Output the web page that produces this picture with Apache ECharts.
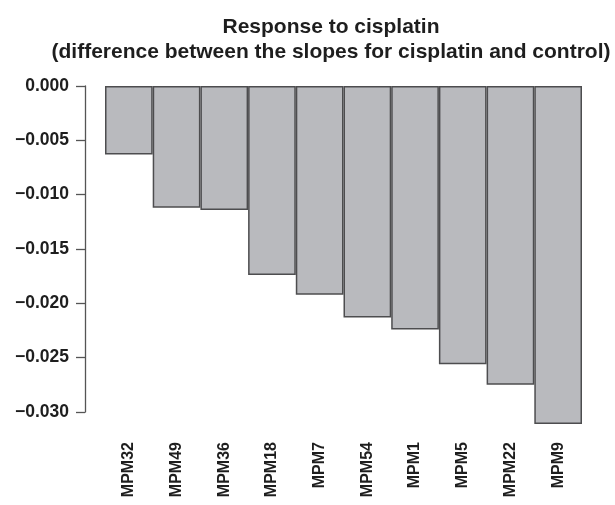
<!DOCTYPE html>
<html>
<head>
<meta charset="utf-8">
<script src="https://cdn.jsdelivr.net/npm/echarts@6/dist/echarts.min.js"></script>
<style>
  html, body { margin: 0; padding: 0; background: #fff; }
  #chart { width: 615px; height: 505px; }
</style>
</head>
<body>
<div id="chart"></div>
<script>
// Cell lines, sorted by response
const cellLines = ['MPM32', 'MPM49', 'MPM36', 'MPM18', 'MPM7', 'MPM54', 'MPM1', 'MPM5', 'MPM22', 'MPM9'];
// Difference between the slopes for cisplatin and control
const slopeDiff = [-0.0063, -0.0112, -0.0114, -0.0174, -0.0192, -0.0213, -0.0224, -0.0256, -0.0275, -0.0311];
// Value axis range and step
const yMin = -0.030;
const yMax = 0;
const yStep = 0.005;

const FONT = '"Liberation Sans", Arial, Helvetica, sans-serif';
const chart = echarts.init(document.getElementById('chart'), null, { renderer: 'canvas' });

chart.setOption({
  animation: false,
  backgroundColor: '#ffffff',
  title: {
    text: 'Response to cisplatin\n(difference between the slopes for cisplatin and control)',
    left: 326,
    textAlign: 'center',
    top: 10,
    textStyle: {
      fontFamily: FONT,
      fontWeight: 'bold',
      fontSize: 21,
      lineHeight: 25,
      color: '#1e1e1e'
    }
  },
  grid: { left: 105, right: 33, top: 86, bottom: 93 },
  xAxis: {
    type: 'category',
    data: cellLines,
    axisLine: { show: false },
    axisTick: { show: false },
    axisLabel: {
      rotate: 90,
      margin: 30,
      interval: 0,
      fontFamily: FONT,
      fontWeight: 'bold',
      fontSize: 16,
      color: '#1e1e1e'
    }
  },
  yAxis: {
    type: 'value',
    min: yMin,
    max: yMax,
    interval: yStep,
    offset: 20,
    splitLine: { show: false },
    axisLine: { show: true, lineStyle: { color: '#555555', width: 1.3 } },
    axisTick: { show: true, length: 9, lineStyle: { color: '#555555', width: 1.3 } },
    axisLabel: {
      margin: 16,
      fontFamily: FONT,
      fontWeight: 'bold',
      fontSize: 17.5,
      color: '#1e1e1e',
      formatter: v => (v < 0 ? '\u2212' : '') + Math.abs(v).toFixed(3)
    }
  },
  series: [{
    type: 'bar',
    data: slopeDiff,
    clip: false,
    barCategoryGap: '0%',
    itemStyle: {
      color: '#b9babe',
      borderColor: '#4d4d4f',
      borderWidth: 1.5
    }
  }]
});
</script>
</body>
</html>
